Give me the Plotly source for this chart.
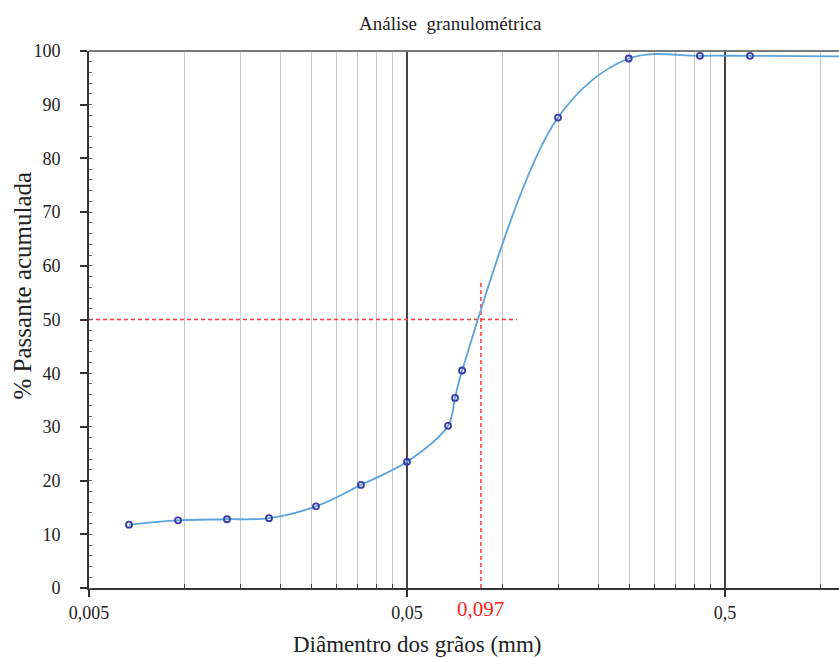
import plotly.graph_objects as go

# ---- data ----
diam_mm = [0.00668, 0.00953, 0.01358, 0.01841, 0.02587, 0.03583, 0.0500,
           0.0673, 0.0708, 0.0745, 0.1492, 0.249, 0.417, 0.599, 1.2]
passing = [11.8, 12.6, 12.8, 13.0, 15.2, 19.2, 23.5,
           30.2, 35.4, 40.5, 87.6, 98.6, 99.1, 99.1, 99.0]

d50_x = 0.0854          # where the red guide crosses the curve in the picture
d50_y = 50
d50_label = "0,097"
h_line_end = 0.111
v_line_top = 57

major_ticks = [0.005, 0.05, 0.5]
major_labels = ["0,005", "0,05", "0,5"]
minor_ticks = [k * 0.005 for k in range(2, 10)] + [k * 0.05 for k in range(2, 10)] + [1.0, 1.5]
y_ticks = list(range(0, 101, 10))

title_text = "Análise  granulométrica"
x_title = "Diâmentro dos grãos (mm)"
y_title = "% Passante acumulada"

FONT = "Liberation Serif"

fig = go.Figure()

# red dashed guides
fig.add_trace(go.Scatter(x=[0.005, h_line_end], y=[d50_y, d50_y], mode="lines",
                         line=dict(color="#ff3b3b", width=1.5, dash="4px,3px"),
                         hoverinfo="skip", showlegend=False))
fig.add_trace(go.Scatter(x=[d50_x, d50_x], y=[0, v_line_top], mode="lines",
                         line=dict(color="#ff3b3b", width=1.5, dash="4px,3px"),
                         hoverinfo="skip", showlegend=False))

# granulometric curve
fig.add_trace(go.Scatter(x=diam_mm, y=passing, mode="lines+markers",
                         line=dict(color="#5ba3dc", width=1.8, shape="spline", smoothing=1),
                         marker=dict(symbol="circle-open", size=6, color="#3a3aa8",
                                     line=dict(width=1.8, color="#3a3aa8")),
                         showlegend=False))

fig.update_layout(
    width=839, height=659,
    margin=dict(l=89, r=0, t=51, b=71),
    paper_bgcolor="white", plot_bgcolor="white",
    font=dict(family=FONT, color="#222222"),
    showlegend=False,
    xaxis=dict(
        type="log",
        range=[-2.30103, 0.0575],
        tickmode="array", tickvals=major_ticks, ticktext=major_labels,
        tickfont=dict(size=18, family=FONT, color="#222222"),
        ticks="outside", ticklen=7, tickcolor="#333333", tickwidth=1.5,
        showgrid=True, gridcolor="#444444", gridwidth=1.5,
        showline=True, linecolor="#333333", linewidth=2,
        mirror=False, zeroline=False,
        minor=dict(tickmode="array", tickvals=minor_ticks, ticks="inside",
                   ticklen=4, tickcolor="#444444", tickwidth=1,
                   showgrid=True, gridcolor="#c8c8c8", gridwidth=1.3),
    ),
    yaxis=dict(
        range=[0, 100],
        tickmode="array", tickvals=y_ticks,
        tickfont=dict(size=18, family=FONT, color="#222222"),
        ticks="outside", ticklen=7, tickcolor="#333333", tickwidth=1.5,
        ticklabelstandoff=16,
        showgrid=False,
        showline=True, linecolor="#333333", linewidth=2,
        zeroline=False,
        minor=dict(dtick=2, ticks="inside", ticklen=3, tickcolor="#666666",
                   tickwidth=1, showgrid=False),
    ),
    shapes=[dict(type="line", xref="paper", yref="paper", x0=0, x1=1, y0=1, y1=1,
                 line=dict(color="#7a7a7a", width=2))],
    annotations=[
        dict(text=title_text, xref="paper", yref="paper", x=(450 - 89) / 750, y=1,
             yshift=28, showarrow=False, xanchor="center", yanchor="middle",
             font=dict(size=19, family=FONT, color="#222222")),
        dict(text=y_title, xref="paper", yref="paper", x=0, y=(588 - 285.5) / 537,
             xshift=-67, textangle=-90, showarrow=False, xanchor="center", yanchor="middle",
             font=dict(size=25, family=FONT, color="#222222")),
        dict(text=x_title, xref="paper", yref="paper", x=(416.5 - 89) / 750, y=0,
             yshift=-56, showarrow=False, xanchor="center", yanchor="middle",
             font=dict(size=23, family=FONT, color="#222222")),
        dict(text=d50_label, x=-1.0685, xref="x", yref="paper", y=0, yshift=-21,
             showarrow=False, xanchor="center", yanchor="middle",
             font=dict(size=21, family=FONT, color="#ff2020")),
    ],
)

fig.write_html("out.html")
